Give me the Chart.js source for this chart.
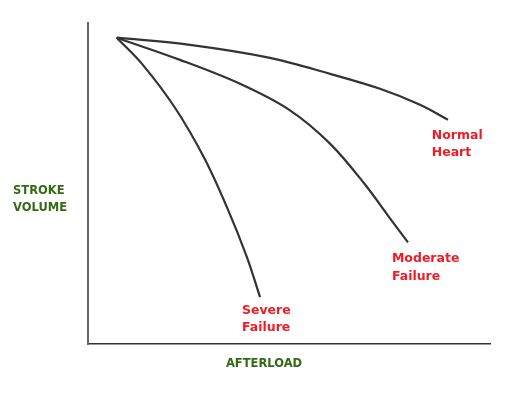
<!DOCTYPE html>
<html>
<head>
<meta charset="utf-8">
<script src="https://cdn.jsdelivr.net/npm/chart.js@4"></script>
<style>
  html, body { margin: 0; padding: 0; background: #fff; }
  #wrap { width: 530px; height: 401px; }
</style>
</head>
<body>
<div id="wrap"><canvas id="chart" width="530" height="401"></canvas></div>
<script>
// afterload (x) vs stroke volume (y), arbitrary units 0-100
const normalX = [7.14, 25.37, 45.27, 60.20, 72.64, 82.59, 89.55];
const normalY = [95.43, 93.17, 89.13, 84.16, 79.50, 74.53, 69.88];
const moderateX = [7.14, 22.89, 37.81, 50.25, 60.20, 68.91, 75.12, 79.60];
const moderateY = [95.43, 88.51, 81.06, 72.80, 62.42, 49.69, 39.13, 31.68];
const severeX = [7.14, 13.43, 21.64, 28.86, 34.58, 39.55, 42.79];
const severeY = [95.43, 87.27, 73.60, 58.07, 42.55, 27.02, 14.60];

const curveLabels = [
  { lines: ['Normal', 'Heart'], x: 85.5, y: 65 },
  { lines: ['Moderate', 'Failure'], x: 75.6, y: 26.5 },
  { lines: ['Severe', 'Failure'], x: 38.3, y: 10.5 }
];
const xTitle = 'AFTERLOAD';
const yTitle = ['STROKE', 'VOLUME'];

const RED = '#ee1c25';
const GREEN = '#336b14';

function pts(xs, ys) { return xs.map((x, i) => ({ x, y: ys[i] })); }

function curve(label, xs, ys) {
  return {
    label, data: pts(xs, ys),
    showLine: true, borderColor: '#333', borderWidth: 2.2,
    pointRadius: 0, tension: 0.35, fill: false
  };
}

const annotate = {
  id: 'annotate',
  afterDatasetsDraw(chart) {
    const { ctx, scales: { x, y } } = chart;
    ctx.save();
    ctx.textBaseline = 'middle';
    ctx.textAlign = 'left';
    ctx.font = 'bold 12.5px "DejaVu Sans"';
    ctx.fillStyle = RED;
    curveLabels.forEach(l => {
      const px = x.getPixelForValue(l.x), py = y.getPixelForValue(l.y);
      l.lines.forEach((t, i) => ctx.fillText(t, px, py + i * 17.5));
    });
    ctx.font = 'bold 11.5px "DejaVu Sans"';
    ctx.fillStyle = GREEN;
    ctx.textAlign = 'center';
    ctx.fillText(xTitle, 264, 364);
    ctx.textAlign = 'left';
    yTitle.forEach((t, i) => ctx.fillText(t, 13, 191 + i * 17));
    ctx.restore();
  }
};

new Chart(document.getElementById('chart'), {
  type: 'scatter',
  data: {
    datasets: [
      curve('Normal Heart', normalX, normalY),
      curve('Moderate Failure', moderateX, moderateY),
      curve('Severe Failure', severeX, severeY)
    ]
  },
  options: {
    responsive: false,
    animation: false,
    layout: { padding: { left: 88, top: 23, right: 40, bottom: 57 } },
    plugins: { legend: { display: false }, tooltip: { enabled: false } },
    scales: {
      x: {
        min: 0, max: 100,
        ticks: { display: false },
        grid: { display: false, drawTicks: false },
        border: { display: true, color: '#333', width: 1.5 }
      },
      y: {
        min: 0, max: 100,
        ticks: { display: false },
        grid: { display: false, drawTicks: false },
        border: { display: true, color: '#666', width: 2 }
      }
    }
  },
  plugins: [annotate]
});
</script>
</body>
</html>
